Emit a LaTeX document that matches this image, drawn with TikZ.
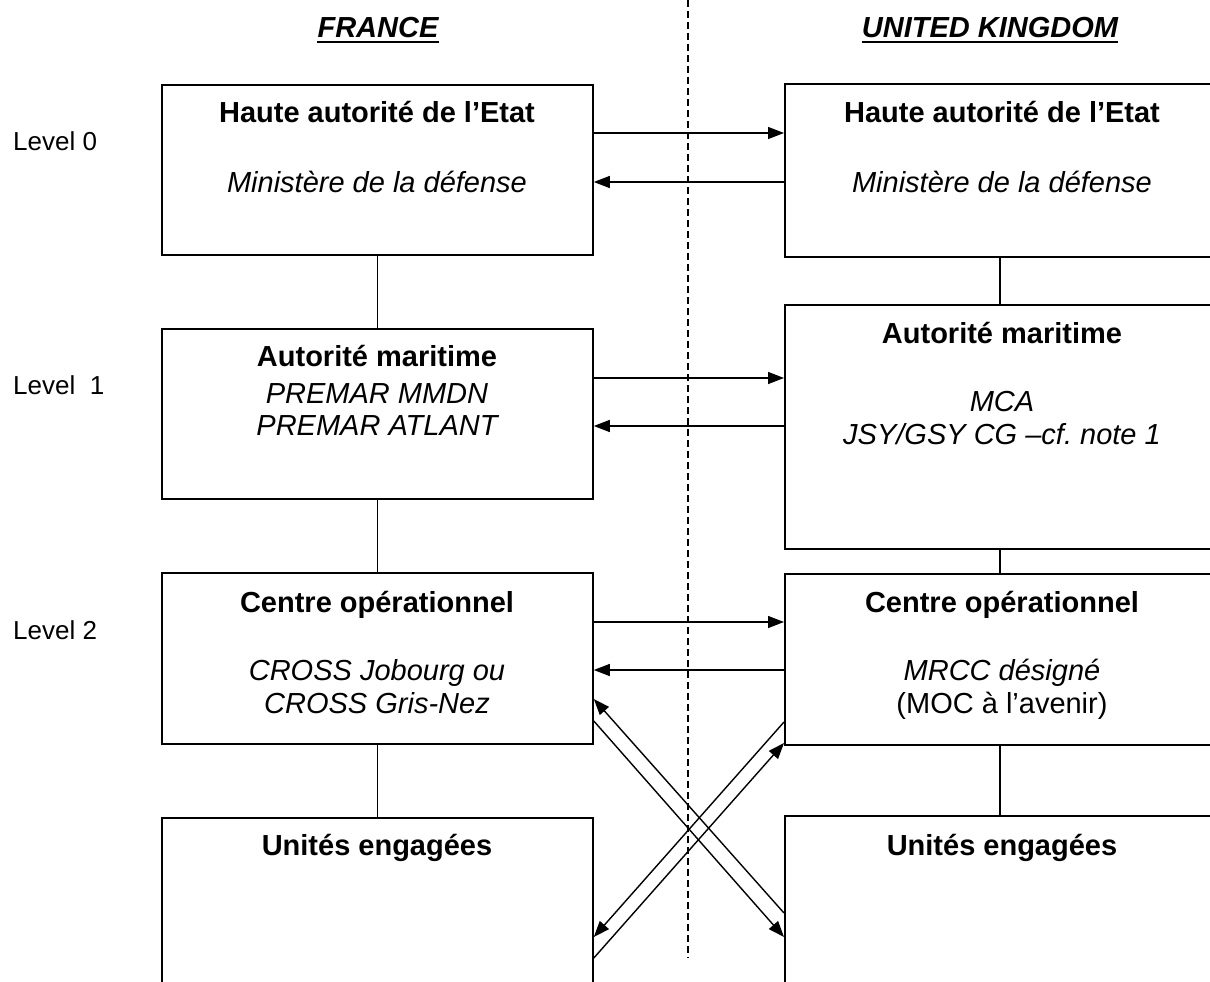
\documentclass[tikz,border=0pt]{standalone}
\usepackage{fontspec}
\setmainfont{Liberation Sans}
\usetikzlibrary{arrows.meta}
\frenchspacing
\begin{document}
\begin{tikzpicture}[x=1pt,y=-1pt,
  box/.style={draw,line width=1.8pt,anchor=north west,inner sep=0pt},
  lbl/.style={inner sep=0pt,anchor=base,font=\fontsize{29}{34}\selectfont},
  ttl/.style={lbl,font=\fontsize{29}{34}\selectfont\bfseries},
  itl/.style={lbl,font=\fontsize{29}{34}\selectfont\itshape},
  lev/.style={inner sep=0pt,anchor=base west,font=\fontsize{26}{31}\selectfont},
  hdr/.style={inner sep=0pt,anchor=base,font=\fontsize{29}{34}\selectfont\bfseries\itshape},
  link/.style={line width=1.6pt},
  arr/.style={line width=1.4pt,-{Triangle[length=16pt,width=12pt]}},
  sep/.style={line width=1.6pt,dash pattern=on 7pt off 4pt}]
\useasboundingbox (0,0) rectangle (1210,982);
\clip (0,0) rectangle (1210,982);
\fill[white] (0,0) rectangle (1210,982);

% separator
\coordinate (st) at (688,0);
\coordinate (sb) at (688,958);
\draw[sep] (st) -- (sb);

% headers
\node[hdr] (fr) at (378,37.5) {FRANCE};
\node[hdr] (uk) at (990,37.5) {UNITED KINGDOM};
\draw[line width=2pt] ([yshift=-5pt]fr.base west) -- ([yshift=-5pt]fr.base east);
\draw[line width=2pt] ([yshift=-5pt]uk.base west) -- ([yshift=-5pt]uk.base east);

% level labels
\node[lev] (lv0) at (13,150) {Level 0};
\node[lev] (lv1) at (13,394) {Level\ \ 1};
\node[lev] (lv2) at (13,639) {Level 2};

% boxes
\node[box,minimum width=431pt,minimum height=170pt] (L0) at (161,84) {};
\node[box,minimum width=431pt,minimum height=170pt] (L1) at (161,328) {};
\node[box,minimum width=431pt,minimum height=171pt] (L2) at (161,572) {};
\node[box,minimum width=431pt,minimum height=200pt] (L3) at (161,817) {};
\node[box,minimum width=430pt,minimum height=173pt] (R0) at (784,83) {};
\node[box,minimum width=430pt,minimum height=244pt] (R1) at (784,304) {};
\node[box,minimum width=430pt,minimum height=171pt] (R2) at (784,573) {};
\node[box,minimum width=430pt,minimum height=200pt] (R3) at (784,815) {};

% texts
\node[ttl] (tL0) at (377,122.5) {Haute autorité de l’Etat};
\node[itl] (sL0) at (377,192) {Ministère de la défense};
\node[ttl] (tR0) at (1002,122.5) {Haute autorité de l’Etat};
\node[itl] (sR0) at (1002,192) {Ministère de la défense};

\node[ttl] (tL1) at (377,366.5) {Autorité maritime};
\node[itl] (sL1a) at (377,403) {PREMAR MMDN};
\node[itl] (sL1b) at (377,435) {PREMAR ATLANT};
\node[ttl] (tR1) at (1002,343) {Autorité maritime};
\node[itl] (sR1a) at (1002,411) {MCA};
\node[itl] (sR1b) at (1002,444) {JSY/GSY CG –cf.\ note 1};

\node[ttl] (tL2) at (377,612.5) {Centre opérationnel};
\node[itl] (sL2a) at (377,680) {CROSS Jobourg ou};
\node[itl] (sL2b) at (377,713) {CROSS Gris-Nez};
\node[ttl] (tR2) at (1002,612.5) {Centre opérationnel};
\node[itl] (sR2a) at (1002,680) {MRCC désigné};
\node[lbl] (sR2b) at (1002,713) {(MOC à l’avenir)};

\node[ttl] (tL3) at (377,855.5) {Unités engagées};
\node[ttl] (tR3) at (1002,855.5) {Unités engagées};

% vertical links
\draw[link] (L0.south) -- (L1.north);
\draw[link] (L1.south) -- (L2.north);
\draw[link] (L2.south) -- (L3.north);
\draw[link] (R0.south) -- (R1.north);
\draw[link] (R1.south) -- (R2.north);
\draw[link] (R2.south) -- (R3.north);

% horizontal arrows
\draw[arr] (L0.east |- 0,133) -- (R0.west |- 0,133);
\draw[arr] (R0.west |- 0,182) -- (L0.east |- 0,182);
\draw[arr] (L1.east |- 0,378) -- (R1.west |- 0,378);
\draw[arr] (R1.west |- 0,426) -- (L1.east |- 0,426);
\draw[arr] (L2.east |- 0,622) -- (R2.west |- 0,622);
\draw[arr] (R2.west |- 0,670) -- (L2.east |- 0,670);

% crossing arrows
\draw[arr] (R3.west |- 0,913) -- (L2.east |- 0,699);
\draw[arr] (L2.east |- 0,721) -- (R3.west |- 0,937);
\draw[arr] (R2.west |- 0,722) -- (L3.east |- 0,937);
\draw[arr] (L3.east |- 0,958) -- (R2.west |- 0,743);
\end{tikzpicture}
\end{document}
